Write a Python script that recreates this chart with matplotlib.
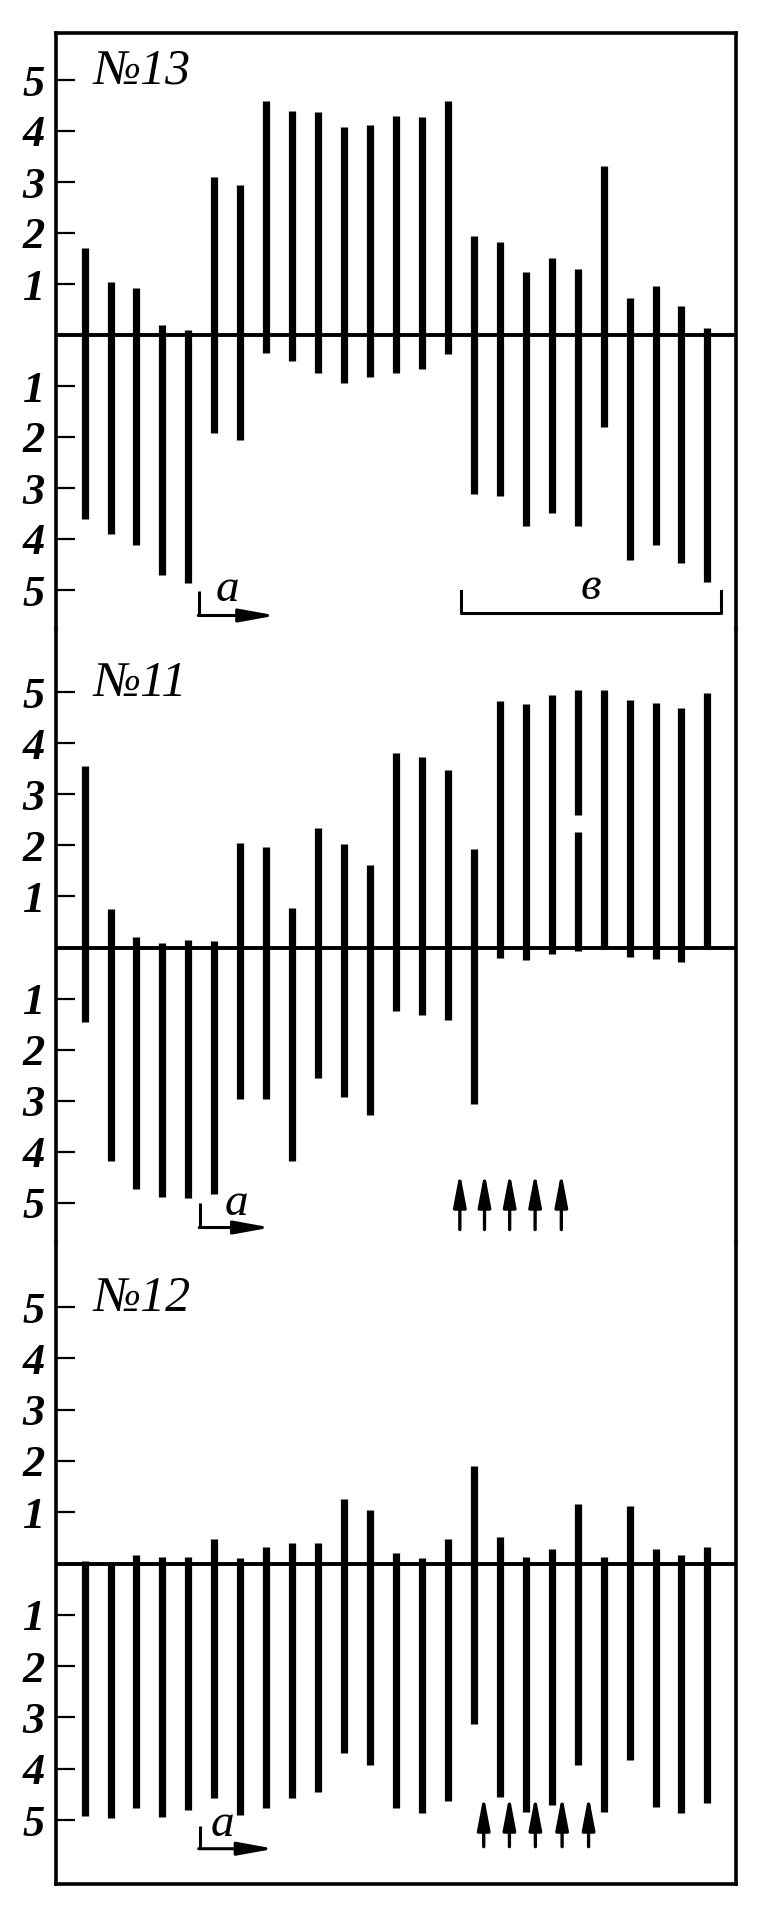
import matplotlib
matplotlib.use("Agg")
import matplotlib.pyplot as plt

plt.rcParams['font.family'] = ['Liberation Serif', 'DejaVu Serif']

# panel titles
labels = ['№13', '№11', '№12']
idx = list(range(1, 26))

# № 13: upper and lower extent of every bar
p13_top = [1.71, 1.03, 0.92, 0.20, 0.10, 3.09, 2.95, 4.58, 4.40, 4.37, 4.08, 4.12, 4.29,
           4.28, 4.58, 1.95, 1.83, 1.23, 1.51, 1.29, 3.31, 0.72, 0.97, 0.57, 0.14]
p13_bot = [-3.61, -3.91, -4.11, -4.71, -4.87, -1.93, -2.05, -0.35, -0.51, -0.75, -0.94, -0.83, -0.74,
           -0.67, -0.38, -3.12, -3.16, -3.75, -3.49, -3.75, -1.80, -4.41, -4.11, -4.47, -4.85]

# № 11
p11_top = [3.55, 0.76, 0.21, 0.09, 0.14, 0.13, 2.05, 1.96, 0.78, 2.33, 2.03, 1.61, 3.81,
           3.72, 3.47, 1.92, 4.83, 4.76, 4.94, 5.03, 5.03, 4.84, 4.79, 4.68, 4.99]
p11_bot = [-1.46, -4.17, -4.73, -4.88, -4.90, -4.83, -2.97, -2.97, -4.17, -2.56, -2.93, -3.27, -1.24,
           -1.32, -1.41, -3.07, -0.21, -0.25, -0.13, -0.07, -0.02, -0.19, -0.23, -0.29, -0.02]
p11_gap = (20, 2.26, 2.59)   # bar number, gap from, gap to

# № 12
p12_top = [0.05, 0.00, 0.16, 0.12, 0.12, 0.47, 0.11, 0.33, 0.40, 0.40, 1.25, 1.04, 0.21,
           0.11, 0.47, 1.90, 0.51, 0.12, 0.28, 1.16, 0.12, 1.12, 0.28, 0.17, 0.33]
p12_bot = [-4.92, -4.96, -4.76, -4.94, -4.80, -4.58, -4.90, -4.76, -4.58, -4.46, -3.70, -3.92, -4.76,
           -4.86, -4.63, -3.12, -4.56, -4.84, -4.70, -3.92, -4.85, -3.84, -4.74, -4.86, -4.66]

# arrow marks under panels 11 and 12
p11_arrows = [15.46, 16.41, 17.38, 18.36, 19.37]
p12_arrows = [16.38, 17.37, 18.37, 19.40, 20.42]

ticks = [-5, -4, -3, -2, -1, 1, 2, 3, 4, 5]
tick_labels = [str(abs(t)) for t in ticks]

W, H = 774, 1911
L, R = 56, 736
# (top px, bottom px, zero px, px per unit)
layout = [(33, 629, 335, 51.0), (629, 1242, 947.5, 51.1), (1242, 1884, 1563.5, 51.3)]

fig = plt.figure(figsize=(W / 100, H / 100), dpi=100)
fnt = dict(family=['Liberation Serif', 'DejaVu Serif'], style='italic')

axes = []
for i, (t, b, z, u) in enumerate(layout):
    ax = fig.add_axes([L / W, 1 - b / H, (R - L) / W, (b - t) / H])
    ax.set_xlim(-0.1, 26.1)
    ax.set_ylim(-(b - z) / u, (z - t) / u)
    ax.set_xticks([])
    ax.set_yticks(ticks)
    ax.set_yticklabels(tick_labels, fontsize=32, fontweight='bold', **fnt)
    ax.tick_params(axis='y', direction='in', length=14, width=1.6, pad=8)
    for s in ['left', 'right']:
        ax.spines[s].set_linewidth(2.6)
    ax.spines['top'].set_visible(i == 0)
    ax.spines['bottom'].set_visible(i == 2)
    ax.spines['top'].set_linewidth(2.6)
    ax.spines['bottom'].set_linewidth(2.6)
    ax.axhline(0, color='k', lw=2.8)
    ax.text(1.35, 4.93, labels[i], fontsize=36, ha='left', va='baseline', **fnt)
    ax.patch.set_alpha(0)
    axes.append(ax)

bar_lw = 5.2
axes[0].vlines(idx, p13_bot, p13_top, color='k', lw=bar_lw)

segs_lo, segs_hi, segs_x = [], [], []
for n, lo, hi in zip(idx, p11_bot, p11_top):
    if n == p11_gap[0]:
        segs_x += [n, n]
        segs_lo += [lo, p11_gap[2]]
        segs_hi += [p11_gap[1], hi]
    else:
        segs_x.append(n)
        segs_lo.append(lo)
        segs_hi.append(hi)
axes[1].vlines(segs_x, segs_lo, segs_hi, color='k', lw=bar_lw)

axes[2].vlines(idx, p12_bot, p12_top, color='k', lw=bar_lw)


def a_mark(ax, x0, x1, ytop, yline, tx, ty):
    ax.plot([x0, x0], [ytop, yline], color='k', lw=2.2, solid_capstyle='butt')
    ax.annotate('', xy=(x1, yline), xytext=(x0 - 0.04, yline),
                arrowprops=dict(arrowstyle='-|>,head_length=2.2,head_width=0.4',
                                lw=2.2, color='k', shrinkA=0, shrinkB=0))
    ax.text(tx, ty, 'а', fontsize=34, ha='center', va='baseline', **fnt)


def up_arrows(ax, xs, tip, tail):
    for x in xs:
        ax.annotate('', xy=(x, tip), xytext=(x, tail),
                    arrowprops=dict(arrowstyle='-|>,head_length=2.0,head_width=0.38',
                                    lw=2.4, color='k', shrinkA=0, shrinkB=0))


a_mark(axes[0], 5.42, 8.37, -5.02, -5.50, 6.5, -5.22)
a_mark(axes[1], 5.46, 8.17, -5.00, -5.48, 6.85, -5.24)
a_mark(axes[2], 5.44, 8.31, -5.12, -5.56, 6.3, -5.32)

# bracket "в" under the right part of panel 13
axes[0].plot([15.51, 15.51, 25.51, 25.51], [-5.02, -5.46, -5.46, -5.02], color='k', lw=2.2)
axes[0].text(20.5, -5.18, 'в', fontsize=34, ha='center', va='baseline', **fnt)

up_arrows(axes[1], p11_arrows, -4.40, -5.52)
up_arrows(axes[2], p12_arrows, -4.52, -5.52)

fig.savefig('out.png', dpi=100)
plt.close(fig)
